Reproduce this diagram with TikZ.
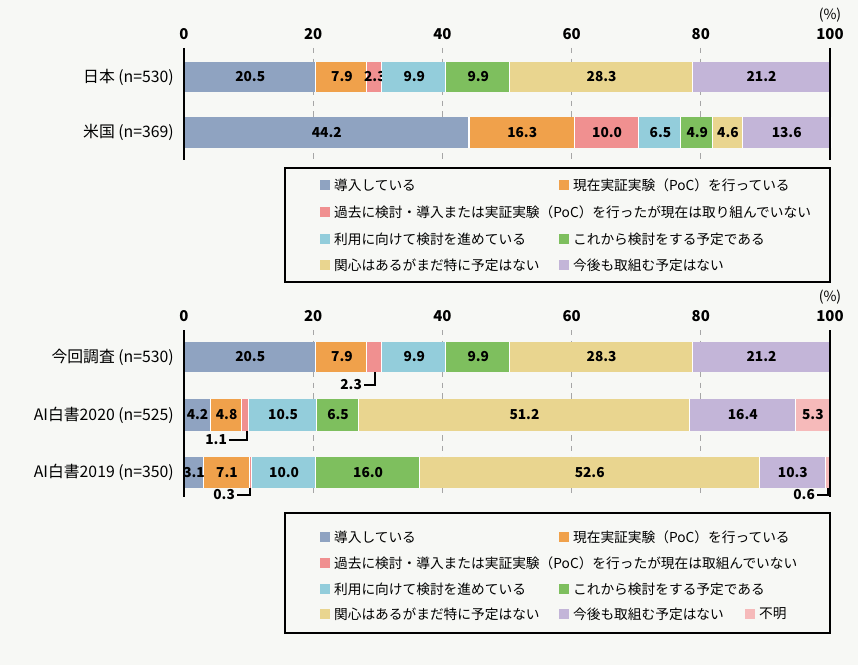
\documentclass[tikz,border=0pt]{standalone}
\usepackage{fontspec}
\setmainfont{Noto Sans CJK JP}
\definecolor{cA}{HTML}{8FA3C1}
\definecolor{cB}{HTML}{F0A14B}
\definecolor{cC}{HTML}{F09090}
\definecolor{cD}{HTML}{93CDDB}
\definecolor{cE}{HTML}{7EBF5E}
\definecolor{cF}{HTML}{E9D58F}
\definecolor{cG}{HTML}{C3B5D8}
\definecolor{cH}{HTML}{F6BABA}
\definecolor{bg}{HTML}{F7F8F5}
\newcommand\bararow[3]{% y-top, y-bottom, segments
  \gdef\acc{0}
  \foreach \v/\c/\t in {#3}{
    \pgfmathsetmacro\xa{184+6.46*\acc}
    \pgfmathsetmacro\xb{184+6.46*(\acc+\v)}
    \fill[\c] (\xa,#1) rectangle (\xb,#2);
    \draw[white,line width=1.2pt] (\xb,#1) -- (\xb,#2);
    \node[val] at ({(\xa+\xb)/2},{(#1+#2)/2}) {\t};
    \pgfmathsetmacro\tmp{\acc+\v}
    \xdef\acc{\tmp}
  }}
\tikzset{
  val/.style={font=\fontsize{7.8}{9}\selectfont\bfseries, inner sep=1pt},
  tick/.style={font=\fontsize{8.5}{9}\selectfont\bfseries, above},
  cat/.style={font=\fontsize{9}{10}\selectfont, left},
  leg/.style={font=\fontsize{7.8}{9}\selectfont, right, inner sep=1pt},
  grid/.style={gray!70, dashed, line width=0.4pt},
  leader/.style={line width=0.6pt}
}
\newcommand\legitem[4]{% x, y, color, text
  \fill[#3] (#1-5,#2-5) rectangle (#1+5,#2+5);
  \node[leg] at (#1+7,#2) {#4};}
\begin{document}
\begin{tikzpicture}[x=0.02cm,y=-0.02cm]
  \fill[bg] (0,0) rectangle (858,665);
  % --- chart 1
  \foreach \g in {20,40,60,80}{
    \draw[grid] ({184+6.46*\g},48) -- ({184+6.46*\g},160);
    \node[tick] at ({184+6.46*\g},46) {\g};}
  \node[tick] at (184,46) {0};
  \node[tick] (p1) at (830,46) {100};
  \node[font=\fontsize{8}{9}\selectfont, above, inner sep=0pt] at (p1.north) {(\%)};
  \bararow{62}{92}{20.5/cA/20.5,7.9/cB/7.9,2.3/cC/2.3,9.9/cD/9.9,9.9/cE/9.9,28.3/cF/28.3,21.2/cG/21.2}
  \bararow{117}{148}{44.2/cA/44.2,16.3/cB/16.3,10.0/cC/10.0,6.5/cD/6.5,4.9/cE/4.9,4.6/cF/4.6,13.6/cG/13.6}
  \draw[line width=1.5pt] (184,48) -- (184,160);
  \draw[line width=1.5pt] (830,48) -- (830,160);
  \node[cat] at (180,77) {日本 (n=530)};
  \node[cat] at (180,132) {米国 (n=369)};
  % legend 1
  \draw[line width=0.6pt] (285,168) rectangle (830,282);
  \legitem{325}{185}{cA}{導入している}
  \legitem{564}{185}{cB}{現在実証実験（PoC）を行っている}
  \legitem{325}{212}{cC}{過去に検討・導入または実証実験（PoC）を行ったが現在は取り組んでいない}
  \legitem{325}{239}{cD}{利用に向けて検討を進めている}
  \legitem{564}{239}{cE}{これから検討をする予定である}
  \legitem{325}{265}{cF}{関心はあるがまだ特に予定はない}
  \legitem{564}{265}{cG}{今後も取組む予定はない}
  % --- chart 2
  \foreach \g in {20,40,60,80}{
    \draw[grid] ({184+6.46*\g},330) -- ({184+6.46*\g},497);
    \node[tick] at ({184+6.46*\g},328) {\g};}
  \node[tick] at (184,328) {0};
  \node[tick] (p2) at (830,328) {100};
  \node[font=\fontsize{8}{9}\selectfont, above, inner sep=0pt] at (p2.north) {(\%)};
  \bararow{342}{372}{20.5/cA/20.5,7.9/cB/7.9,2.3/cC/,9.9/cD/9.9,9.9/cE/9.9,28.3/cF/28.3,21.2/cG/21.2}
  \bararow{399}{431}{4.2/cA/4.2,4.8/cB/4.8,1.1/cC/,10.5/cD/10.5,6.5/cE/6.5,51.2/cF/51.2,16.4/cG/16.4,5.3/cH/5.3}
  \bararow{457}{488}{3.1/cA/3.1,7.1/cB/7.1,0.3/cC/,10.0/cD/10.0,16.0/cE/16.0,52.6/cF/52.6,10.3/cG/10.3,0.6/cH/}
  \draw[line width=1.5pt] (184,330) -- (184,497);
  \draw[line width=1.5pt] (830,330) -- (830,497);
  \node[cat] at (180,357) {今回調査 (n=530)};
  \node[cat] at (180,415) {AI白書2020 (n=525)};
  \node[cat] at (180,472) {AI白書2019 (n=350)};
  % small values
  \node[val, left] (s1) at (364,385) {2.3};
  \coordinate (e1) at (375,372);
  \draw[leader] (s1.east) -| (e1);
  \node[val, left] (s2) at (229,440) {1.1};
  \coordinate (e2) at (247,431);
  \draw[leader] (s2.east) -| (e2);
  \node[val, left] (s3) at (237,495) {0.3};
  \coordinate (e3) at (250,488);
  \draw[leader] (s3.east) -| (e3);
  \node[val, left] (s4) at (817,495) {0.6};
  \coordinate (e4) at (828,488);
  \draw[leader] (s4.east) -| (e4);
  % legend 2
  \draw[line width=0.6pt] (285,513) rectangle (830,633);
  \legitem{325}{537}{cA}{導入している}
  \legitem{564}{537}{cB}{現在実証実験（PoC）を行っている}
  \legitem{325}{563}{cC}{過去に検討・導入または実証実験（PoC）を行ったが現在は取組んでいない}
  \legitem{325}{589}{cD}{利用に向けて検討を進めている}
  \legitem{564}{589}{cE}{これから検討をする予定である}
  \legitem{325}{614}{cF}{関心はあるがまだ特に予定はない}
  \legitem{564}{614}{cG}{今後も取組む予定はない}
  \legitem{750}{614}{cH}{不明}
\end{tikzpicture}
\end{document}
